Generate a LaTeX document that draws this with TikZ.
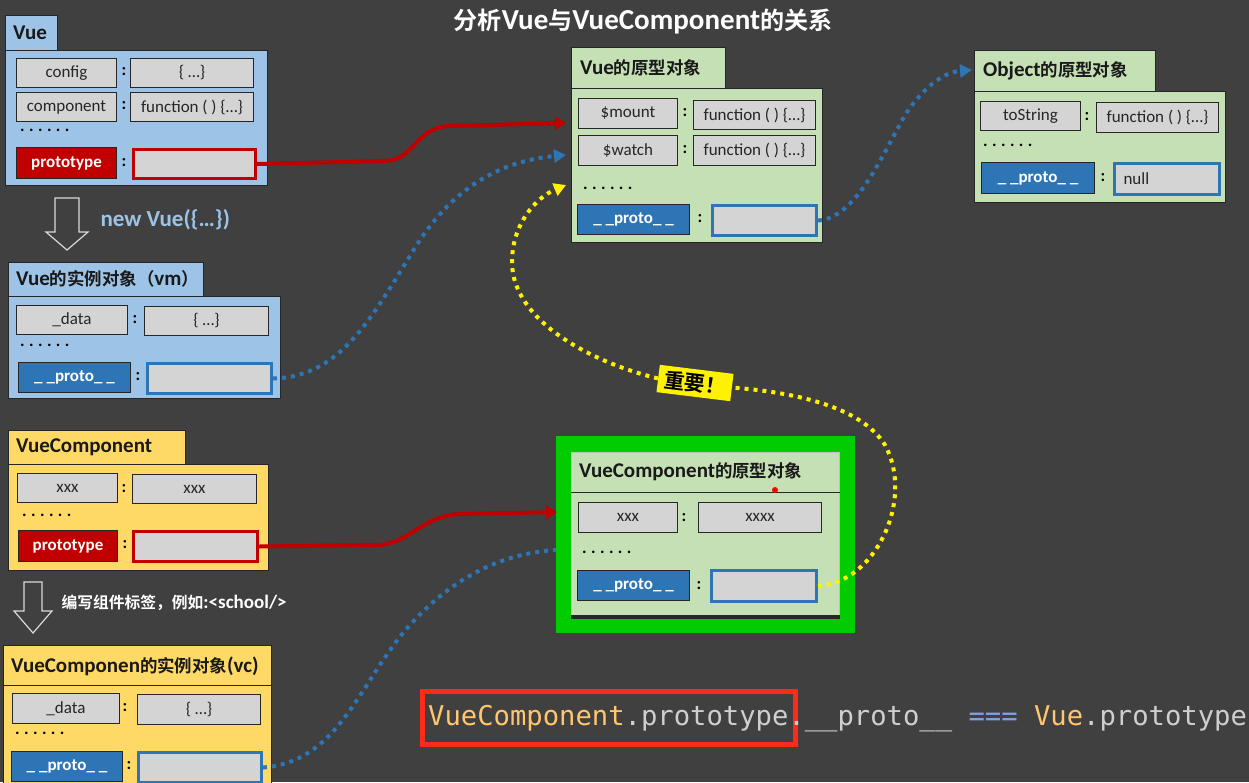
\documentclass[tikz,border=0pt]{standalone}
\usepackage{fontspec}
\setmainfont{Carlito}
\newfontfamily\cjk{Noto Sans CJK SC}[Scale=0.83, BoldFont={Noto Sans CJK SC Bold}]
\newfontfamily\codefont{DejaVu Sans Mono}
\usetikzlibrary{arrows.meta}

\definecolor{bgdark}{HTML}{404040}
\definecolor{edgedark}{HTML}{262626}
\definecolor{vueblue}{HTML}{9DC3E6}
\definecolor{keygray}{HTML}{D4D4D4}
\definecolor{protored}{HTML}{C00000}
\definecolor{protoblue}{HTML}{2E75B6}
\definecolor{protogreen}{HTML}{C5E0B4}
\definecolor{compyellow}{HTML}{FFD966}
\definecolor{framegreen}{HTML}{00CC00}
\definecolor{dotblue}{HTML}{2E75B6}
\definecolor{dotyellow}{HTML}{FFF200}
\definecolor{codeyellow}{HTML}{FFC66D}
\definecolor{codegray}{HTML}{CFCFCF}
\definecolor{codeblue}{HTML}{7EA3E0}
\definecolor{boxred}{HTML}{FF2A1A}

\newcommand{\zh}[1]{{\cjk #1}}
\newcommand{\dotrow}{.\hspace{4.4pt}.\hspace{4.4pt}.\hspace{4.4pt}.\hspace{4.4pt}.\hspace{4.4pt}.}

\tikzset{
    panel/.style={draw=edgedark, line width=1pt, anchor=north west, inner sep=0pt},
    bluepanel/.style={panel, fill=vueblue},
    greenpanel/.style={panel, fill=protogreen},
    yellowpanel/.style={panel, fill=compyellow},
    headtext/.style={anchor=west, inner sep=0pt, text=black!90, font=\bfseries\fontsize{21}{24}\selectfont},
    keybox/.style={draw=edgedark, line width=1pt, fill=keygray, anchor=north west, inner sep=0pt,
        minimum height=29, text=black!85, font=\fontsize{17}{19}\selectfont},
    valbox/.style={keybox},
    redkey/.style={keybox, fill=protored, text=white, font=\bfseries\fontsize{17}{19}\selectfont},
    redval/.style={keybox, draw=protored, line width=3pt},
    bluekey/.style={keybox, fill=protoblue, text=white, font=\bfseries\fontsize{17}{19}\selectfont},
    blueval/.style={keybox, draw=protoblue, line width=3pt},
    colon/.style={inner sep=0pt, text=black, font=\bfseries\fontsize{17}{19}\selectfont},
    dotline/.style={anchor=west, inner sep=0pt, text=black, font=\bfseries\fontsize{17}{19}\selectfont},
    hollow/.style={draw=black!15, line width=1.2pt},
    redlink/.style={draw=protored, line width=4pt, -{Triangle[length=11pt,width=13pt]}},
    bluelink/.style={draw=dotblue, line width=4pt, dash pattern=on 4pt off 5pt},
    yellowlink/.style={draw=dotyellow, line width=4pt, dash pattern=on 4pt off 5pt},
    tip/.style={-{Triangle[length=12pt,width=13pt]}},
}

\begin{document}
\begin{tikzpicture}[x=1pt, y=-1pt]
    \fill[bgdark] (0,0) rectangle (1249,782);
    \fill[black!75] (0,0) rectangle (1249,4);
    \useasboundingbox (0,0) rectangle (1249,782);

    \coordinate (vprin) at (566,123);
    \coordinate (vpbin) at (566,155);
    \coordinate (vpyin) at (566,185);
    \coordinate (opin) at (972,70);
    \coordinate (cprin) at (557,512);
    \coordinate (cpbin) at (556,550);

    \node[text=white, font=\bfseries\fontsize{29}{32}\selectfont] (title) at (643,22)
        {\zh{分析}Vue\zh{与}VueComponent\zh{的关系}};

    % Vue
    \node[bluepanel, minimum width=52, minimum height=35] (vtab) at (5,15) {};
    \node[bluepanel, minimum width=262, minimum height=135] (vbody) at (5,50) {};
    \node[headtext] (vhead) at (13,33) {Vue};
    \node[keybox, minimum width=100] (vcfg) at (16,58) {config};
    \node[colon] (vc1) at (124,72) {:};
    \node[valbox, minimum width=123] (vcfgval) at (130,58) {\{ …\}};
    \node[keybox, minimum width=100] (vcomp) at (16,92) {component};
    \node[colon] (vc2) at (124,106) {:};
    \node[valbox, minimum width=123] (vcompval) at (130,92) {function ( ) \{…\}};
    \node[dotline] (vdots) at (20,130) {\dotrow};
    \node[redkey, minimum width=100, minimum height=31] (vproto) at (16,147) {prototype};
    \node[colon] (vc3) at (124,163) {:};
    \node[redval, minimum width=122] (vprotoval) at (132,148) {};

    \draw[hollow] (55,198) -- (79,198) -- (79,232) -- (88,232) -- (67,250) -- (46,232) -- (55,232) -- cycle;
    \node[anchor=west, text=vueblue, font=\bfseries\fontsize{23}{26}\selectfont] (newvue) at (97,220) {new Vue(\{…\})};

    % vm
    \node[bluepanel, minimum width=195, minimum height=34] (mtab) at (8,262) {};
    \node[bluepanel, minimum width=272, minimum height=102] (mbody) at (8,296) {};
    \node[headtext] (mhead) at (16,279) {Vue\zh{的实例对象（}vm\zh{）}};
    \node[keybox, minimum width=111] (mdata) at (16,305) {\_data};
    \node[colon] (mc1) at (135,320) {:};
    \node[valbox, minimum width=124] (mdataval) at (144,306) {\{ …\}};
    \node[dotline] (mdots) at (20,345) {\dotrow};
    \node[bluekey, minimum width=112, minimum height=30] (mproto) at (18,362) {\_ \_proto\_ \_};
    \node[colon] (mc2) at (138,377) {:};
    \node[blueval, minimum width=124, minimum height=30] (mprotoval) at (146,362) {};

    % VueComponent
    \node[yellowpanel, minimum width=177, minimum height=34] (ctab) at (8,430) {};
    \node[yellowpanel, minimum width=260, minimum height=106] (cbody) at (8,464) {};
    \node[headtext] (chead) at (16,447) {VueComponent};
    \node[keybox, minimum width=100] (cxxx) at (17,473) {xxx};
    \node[colon] (cc1) at (124,489) {:};
    \node[valbox, minimum width=124] (cxxxval) at (132,474) {xxx};
    \node[dotline] (cdots) at (22,515) {\dotrow};
    \node[redkey, minimum width=99, minimum height=31] (cproto) at (18,530) {prototype};
    \node[colon] (cc2) at (125,545) {:};
    \node[redval, minimum width=124, minimum height=30] (cprotoval) at (132,530) {};

    \draw[hollow] (24,582) -- (42,582) -- (42,611) -- (52,611) -- (33,633) -- (14,611) -- (24,611) -- cycle;
    \node[anchor=west, text=white, font=\bfseries\fontsize{19}{22}\selectfont] (tagtext) at (58,603)
        {\zh{编写组件标签，例如}:<school/>};

    % vc
    \node[yellowpanel, minimum width=268, minimum height=145] (kbody) at (3,645) {};
    \draw[edgedark, line width=1pt] ([yshift=-40pt]kbody.north west) -- ([yshift=-40pt]kbody.north east);
    \node[headtext] (khead) at (11,666) {VueComponen\zh{的实例对象}(vc)};
    \node[keybox, minimum width=107, minimum height=30] (kdata) at (12,693) {\_data};
    \node[colon] (kc1) at (125,708) {:};
    \node[valbox, minimum width=123, minimum height=30] (kdataval) at (137,694) {\{ …\}};
    \node[dotline] (kdots) at (15,733) {\dotrow};
    \node[bluekey, minimum width=111, minimum height=30] (kproto) at (11,751) {\_ \_proto\_ \_};
    \node[colon] (kc2) at (129,766) {:};
    \node[blueval, minimum width=123, minimum height=30] (kprotoval) at (137,751) {};

    % Vue prototype
    \node[greenpanel, minimum width=154, minimum height=41] (ptab) at (571,47) {};
    \node[greenpanel, minimum width=251, minimum height=154] (pbody) at (571,88) {};
    \node[headtext] (phead) at (580,68) {Vue\zh{的原型对象}};
    \node[keybox, minimum width=99, minimum height=30] (pmount) at (578,98) {\$mount};
    \node[colon] (pc1) at (685,113) {:};
    \node[valbox, minimum width=122] (pmountval) at (693,100) {function ( ) \{…\}};
    \node[keybox, minimum width=99, minimum height=30] (pwatch) at (578,135) {\$watch};
    \node[colon] (pc2) at (685,150) {:};
    \node[valbox, minimum width=122, minimum height=30] (pwatchval) at (693,135) {function ( ) \{…\}};
    \node[dotline] (pdots) at (583,188) {\dotrow};
    \node[bluekey, minimum width=112, minimum height=30] (pproto) at (577,204) {\_ \_proto\_ \_};
    \node[colon] (pc3) at (700,219) {:};
    \node[blueval, minimum width=104, minimum height=30] (pprotoval) at (711,204) {};

    % Object prototype
    \node[greenpanel, minimum width=181, minimum height=41] (otab) at (974,50) {};
    \node[greenpanel, minimum width=251, minimum height=111] (obody) at (974,91) {};
    \node[headtext] (ohead) at (983,71) {Object\zh{的原型对象}};
    \node[keybox, minimum width=100] (otostr) at (980,101) {toString};
    \node[colon] (oc1) at (1087,117) {:};
    \node[valbox, minimum width=122, minimum height=30] (otostrval) at (1096,102) {function ( ) \{…\}};
    \node[dotline] (odots) at (983,145) {\dotrow};
    \node[bluekey, minimum width=113, minimum height=31] (oproto) at (981,162) {\_ \_proto\_ \_};
    \node[colon] (oc2) at (1103,178) {:};
    \node[blueval, minimum height=31, inner xsep=9pt, text width=87pt, align=left] (oprotoval) at (1113,162) {null};

    % VueComponent prototype
    \node[fill=framegreen, anchor=north west, inner sep=0pt, minimum width=299, minimum height=197] (qframe) at (556,436) {};
    \node[greenpanel, draw=black!25, minimum width=268, minimum height=164] (qbody) at (571,452) {};
    \draw[edgedark, line width=1pt] ([yshift=-40pt]qbody.north west) -- ([yshift=-40pt]qbody.north east);
    \draw[edgedark, line width=3.5pt] (qbody.south west) -- (qbody.south east);
    \node[headtext] (qhead) at (579,472) {VueComponent\zh{的原型对象}};
    \fill[red] (775,490) circle (3);
    \node[keybox, minimum width=99, minimum height=30] (qxxx) at (578,502) {xxx};
    \node[colon] (qc1) at (684,518) {:};
    \node[valbox, minimum width=123, minimum height=30] (qxxxval) at (698,502) {xxxx};
    \node[dotline] (qdots) at (582,552) {\dotrow};
    \node[bluekey, minimum width=112, minimum height=30] (qproto) at (577,570) {\_ \_proto\_ \_};
    \node[colon] (qc2) at (699,586) {:};
    \node[blueval, minimum width=105, minimum height=31] (qprotoval) at (710,569) {};

    % links
    \draw[redlink] (vprotoval.east) -- (385,161) .. controls (415,160) and (415,127) .. (450,126) -- (vprin);
    \draw[redlink] (cprotoval.east) -- (375,545) .. controls (410,545) and (420,516) .. (460,514) -- (cprin);
    \draw[bluelink, tip] (mprotoval.east) .. controls (345,377) and (375,310) .. (420,240)
        .. controls (460,180) and (510,160) .. (vpbin);
    \draw[bluelink, tip] (pprotoval.east) .. controls (855,218) and (880,160) .. (905,115)
        .. controls (925,85) and (945,72) .. (opin);
    \draw[bluelink] (kprotoval.east) .. controls (340,762) and (360,680) .. (410,625)
        .. controls (455,575) and (505,553) .. (cpbin);

    \node[fill=dotyellow, rotate=-7, inner xsep=6pt, inner ysep=4pt, text=black,
        font=\cjk\bfseries\fontsize{25}{28}\selectfont] (imp) at (695,383) {重要！};
    \draw[yellowlink] (qprotoval.east) .. controls (875,583) and (915,500) .. (885,445)
        .. controls (860,405) and (790,392) .. (imp.east);
    \draw[yellowlink, tip] (imp.west) .. controls (590,362) and (512,320) .. (512,262)
        .. controls (512,225) and (535,198) .. (vpyin);

    % formula
    \node[draw=boxred, line width=5pt, anchor=north west, inner sep=0pt, minimum width=373, minimum height=53] (eqbox) at (420,689) {};
    \node[anchor=base west, inner sep=0pt, font=\codefont\fontsize{27.2}{30}\selectfont] (eq) at (428,725)
        {\textcolor{codeyellow}{VueComponent}\textcolor{codegray}{.prototype.\_\_proto\_\_} \textcolor{codeblue}{===} \textcolor{codeyellow}{Vue}\textcolor{codegray}{.prototype}};
\end{tikzpicture}
\end{document}
